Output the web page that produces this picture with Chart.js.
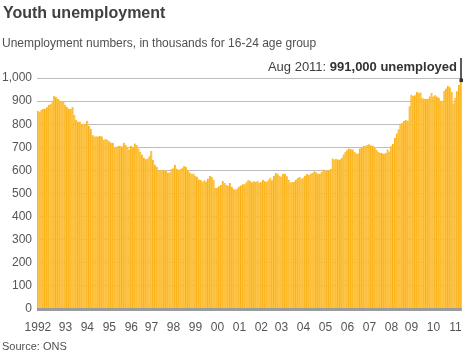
<!DOCTYPE html>
<html><head><meta charset="utf-8">
<script src="https://cdn.jsdelivr.net/npm/chart.js@4.4.0/dist/chart.umd.min.js"></script>
<style>
html,body{margin:0;padding:0;background:#fff;}
#wrap{position:relative;width:464px;height:360px;overflow:hidden;font-family:"Liberation Sans",Arial,Helvetica,sans-serif;}
#c{position:absolute;left:0;top:0;}
.t{position:absolute;white-space:nowrap;}
#title{left:3px;top:3px;font-size:16px;line-height:20px;font-weight:bold;color:#404040;}
#sub{left:2px;top:36px;font-size:12px;line-height:14px;color:#505050;}
#note{right:7px;top:59px;font-size:13px;line-height:16px;color:#404040;}
#note b{color:#333;}
#src{left:2px;top:340px;font-size:11px;line-height:13px;color:#505050;}
</style></head><body>
<div id="wrap">
<canvas id="c" width="464" height="360"></canvas>
<div class="t" id="title">Youth unemployment</div>
<div class="t" id="sub">Unemployment numbers, in thousands for 16-24 age group</div>
<div class="t" id="note">Aug 2011: <b>991,000 unemployed</b></div>
<div class="t" id="src">Source: ONS</div>
</div>
<script>
// Rolling 3-month youth unemployment (thousands), first value = May 1992
const startYear = 1992, startMonth = 4; // May
const v1992 = [858, 854, 862, 867, 867, 873, 884, 886];
const v1993 = [895, 923, 918, 910, 903, 899, 896, 884, 874, 867, 867, 874];
const v1994 = [840, 819, 811, 811, 802, 802, 802, 815, 793, 780, 752, 747];
const v1995 = [747, 747, 750, 747, 733, 737, 733, 726, 720, 720, 701, 701];
const v1996 = [707, 707, 704, 720, 711, 698, 690, 707, 701, 716, 710, 695];
const v1997 = [680, 668, 655, 648, 651, 661, 685, 645, 625, 616, 599, 603];
const v1998 = [597, 603, 597, 591, 591, 606, 609, 625, 607, 603, 606, 611];
const v1999 = [620, 615, 603, 591, 586, 586, 577, 573, 561, 558, 551, 557];
const v2000 = [552, 564, 577, 573, 560, 525, 525, 531, 538, 554, 545, 538];
const v2001 = [534, 545, 529, 519, 517, 522, 530, 535, 540, 540, 550, 558];
const v2002 = [555, 549, 553, 551, 554, 547, 550, 560, 553, 551, 558, 568];
const v2003 = [557, 577, 589, 585, 577, 573, 586, 586, 575, 560, 548, 550];
const v2004 = [551, 560, 567, 571, 564, 568, 577, 584, 580, 586, 589, 596];
const v2005 = [592, 586, 586, 594, 604, 602, 597, 600, 607, 651, 647, 650];
const v2006 = [647, 647, 655, 669, 680, 689, 695, 692, 690, 680, 673, 673];
const v2007 = [695, 700, 707, 707, 710, 713, 708, 707, 700, 689, 680, 676];
const v2008 = [675, 672, 675, 690, 682, 705, 715, 740, 760, 778, 802, 806];
const v2009 = [815, 818, 815, 878, 928, 922, 925, 939, 935, 937, 914, 910];
const v2010 = [910, 910, 920, 935, 920, 925, 920, 915, 901, 902, 945, 955];
const v2011 = [966, 960, 940, 890, 913, 943, 970, 991];

const yearLabels = ['1992','93','94','95','96','97','98','99','00','01','02','03','04','05','06','07','08','09','10','11'];
const monthNames = ['Jan','Feb','Mar','Apr','May','Jun','Jul','Aug','Sep','Oct','Nov','Dec'];

const values = [].concat(v1992, v1993, v1994, v1995, v1996, v1997, v1998, v1999, v2000,
  v2001, v2002, v2003, v2004, v2005, v2006, v2007, v2008, v2009, v2010, v2011);
const categories = values.map((_, i) => {
  const m = startMonth + i;
  return monthNames[m % 12] + ' ' + (startYear + Math.floor(m / 12));
});

// which category carries each year label (label spacing as in the source graphic)
const labelAt = {};
yearLabels.forEach((lab, k) => {
  const idx = k === 0 ? 0 : Math.round(15 + (k - 1) * (213 / 18));
  labelAt[idx] = lab;
});

const FONT = '"Liberation Sans", Arial, Helvetica, sans-serif';

const overlay = {
  id: 'overlay',
  afterDatasetsDraw(chart) {
    const {ctx, chartArea, scales: {x, y}} = chart;
    const y0 = y.getPixelForValue(0);
    ctx.save();
    ctx.strokeStyle = '#9b9b9b';
    ctx.lineWidth = 3;
    ctx.beginPath();
    ctx.moveTo(chartArea.left, y0 + 0.5);
    ctx.lineTo(chartArea.right, y0 + 0.5);
    ctx.stroke();
    const li = values.length - 1;
    const px = x.getPixelForValue(li);
    const py = y.getPixelForValue(values[li]);
    ctx.strokeStyle = '#333';
    ctx.lineWidth = 1.6;
    ctx.beginPath();
    ctx.moveTo(px, chartArea.top - 20);
    ctx.lineTo(px, py);
    ctx.stroke();
    ctx.fillStyle = '#333';
    ctx.fillRect(px - 1.5, py - 1.5, 3.5, 3.5);
    ctx.restore();
  }
};

new Chart(document.getElementById('c'), {
  type: 'bar',
  data: {
    labels: categories,
    datasets: [{
      data: values,
      backgroundColor: '#FFC444',
      borderColor: '#F6A800',
      borderWidth: {left: 0.7, right: 0, top: 0, bottom: 0},
      borderSkipped: false,
      barPercentage: 1,
      categoryPercentage: 1
    }]
  },
  options: {
    responsive: false,
    animation: false,
    devicePixelRatio: 1,
    layout: {autoPadding: false, padding: {top: 78, left: 2, right: 1, bottom: 0}},
    plugins: {legend: {display: false}, tooltip: {enabled: false}},
    scales: {
      x: {
        grid: {display: false},
        border: {display: false},
        ticks: {
          autoSkip: false, maxRotation: 0, minRotation: 0, padding: 3,
          color: '#555', font: {family: FONT, size: 12},
          callback: (val, index) => labelAt[index] || ''
        },
        afterFit(s) { s.height = 51; }
      },
      y: {
        min: 0, max: 1000,
        grid: {
          color: c => (c.tick && c.tick.value === 0) ? 'rgba(0,0,0,0)' : '#bdbdbd',
          lineWidth: 1, drawTicks: false
        },
        border: {display: false},
        ticks: {
          stepSize: 100, padding: 5, color: '#555', font: {family: FONT, size: 12},
          callback: v => v.toLocaleString('en-US')
        },
        afterFit(s) { s.width = 35; }
      }
    }
  },
  plugins: [overlay]
});
</script>
</body></html>
